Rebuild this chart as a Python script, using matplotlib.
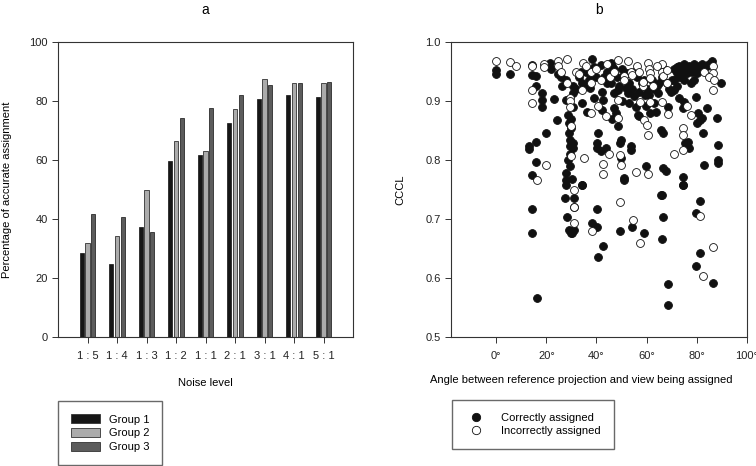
import numpy as np
import matplotlib
matplotlib.use("Agg")
import matplotlib.pyplot as plt
from matplotlib.patches import Patch
from matplotlib.lines import Line2D

plt.rcParams['font.family'] = ['Liberation Sans', 'DejaVu Sans']

# panel a: accuracy per noise level
noise_levels = ['1 : 5', '1 : 4', '1 : 3', '1 : 2', '1 : 1', '2 : 1', '3 : 1', '4 : 1', '5 : 1']
group1 = [28.4, 24.7, 37.4, 59.6, 61.6, 72.6, 80.6, 82.0, 81.3]
group2 = [31.9, 34.2, 50.0, 66.3, 63.2, 77.3, 87.4, 86.0, 86.0]
group3 = [41.6, 40.6, 35.6, 74.3, 77.6, 82.0, 85.4, 86.0, 86.6]
group_names = ['Group 1', 'Group 2', 'Group 3']
group_colors = ['#161616', '#ababab', '#5c5c5c']

# panel b: CCCL vs angle (angle in degrees, CCCL)
correct_angle = [
    0, 0, 5.6, 14.3, 14.3, 16, 16, 18.4, 18.4, 18.4, 21.3, 23, 19.7, 13, 13, 16, 16, 14.3,
    24.3, 24.5, 26.3, 27.7, 27.7, 28.6, 29, 29, 29.3, 29.3, 29.5, 29.5, 27.7, 27.7, 27.7,
    30.8, 30.8, 30.8, 30.8, 30.8, 30.3, 34.4, 34.4, 34.4, 36.4, 37.4, 38.4, 39, 40.4, 40.4,
    40.6, 42, 42.4, 41.7, 41.7, 43.7, 45.7, 45.7, 47, 47, 47.7, 48.5, 48.7, 49.5, 49.7, 49.7,
    51, 51.7, 52.4, 53, 53.6, 53.6, 53, 55, 55.7, 56.4, 57, 59.4, 59.6, 61.5, 59.6, 63, 63.7,
    64.4, 65.8, 66.4, 66.4, 67.7, 68.4, 69.7, 71, 71, 73, 74.5, 75, 74.5, 74.5, 75.4, 76.4,
    77, 77.8, 79, 79.5, 80, 80.6, 81.3, 81.9, 82.5, 84, 85, 88, 88.5, 88.5, 88.5, 89.5,
    71, 72, 73, 74, 75, 76, 77, 78, 79, 80, 81, 82, 83, 84, 86, 72, 74, 76, 78, 80, 73, 75,
    38, 44, 46, 50, 52, 56, 58, 60, 62, 64, 66, 67, 68, 69, 44, 48, 36, 33, 32, 30, 30, 28.5,
    35, 39, 42, 46, 50,
    22, 26, 34, 37, 40, 43, 45, 49, 51, 54, 57, 59, 61, 63, 65, 70, 72, 55, 47,
    14.3, 14.3, 16.3, 27.4, 28.3, 29, 29.7, 30.4, 31, 31, 31, 34.4, 38.1, 40.4, 40.4, 40.6,
    42.4, 49.5, 51, 54, 59, 66.2, 66.5, 66, 68.4, 68.4, 74.5, 79.8, 81.4, 79.8, 81.4, 86.5,
    65.6, 83,
]
correct_cccl = [
    0.953, 0.945, 0.946, 0.961, 0.944, 0.942, 0.925, 0.913, 0.902, 0.89, 0.964, 0.904, 0.845,
    0.823, 0.818, 0.831, 0.797, 0.775,
    0.867, 0.945, 0.925, 0.936, 0.902, 0.877, 0.862, 0.845, 0.834, 0.823, 0.81, 0.789, 0.778,
    0.766, 0.758,
    0.913, 0.925, 0.89, 0.828, 0.82, 0.768, 0.896, 0.931, 0.758, 0.882, 0.922, 0.972, 0.958,
    0.828, 0.82,
    0.845, 0.916, 0.901, 0.961, 0.815, 0.82, 0.964, 0.93, 0.913, 0.888, 0.879, 0.918, 0.857,
    0.828, 0.834, 0.803,
    0.769, 0.922, 0.913, 0.93, 0.823, 0.817, 0.896, 0.908, 0.89, 0.877, 0.874, 0.911, 0.891,
    0.88, 0.789, 0.896, 0.882,
    0.913, 0.851, 0.846, 0.787, 0.782, 0.89, 0.916, 0.919, 0.936, 0.905, 0.888, 0.899, 0.772,
    0.758, 0.828, 0.831,
    0.82, 0.93, 0.936, 0.907, 0.862, 0.879, 0.868, 0.872, 0.845, 0.888, 0.962, 0.871, 0.826,
    0.8, 0.795, 0.93,
    0.955, 0.958, 0.96, 0.955, 0.962, 0.958, 0.96, 0.955, 0.962, 0.958, 0.96, 0.962, 0.958,
    0.96, 0.967, 0.948, 0.945, 0.947, 0.95, 0.948, 0.94, 0.935,
    0.94, 0.95, 0.96, 0.955, 0.948, 0.94, 0.93, 0.92, 0.935, 0.925, 0.94, 0.955, 0.93, 0.92,
    0.93, 0.94, 0.95, 0.94, 0.92, 0.87, 0.855, 0.8,
    0.925, 0.905, 0.885, 0.87, 0.9,
    0.955, 0.94, 0.95, 0.935, 0.94, 0.94, 0.945, 0.925, 0.945, 0.92, 0.915, 0.935, 0.91, 0.92,
    0.93, 0.935, 0.925, 0.95, 0.955,
    0.717, 0.676, 0.566, 0.735, 0.704, 0.681, 0.676, 0.676, 0.681, 0.735, 0.72, 0.757, 0.693,
    0.717, 0.687, 0.635,
    0.655, 0.68, 0.766, 0.687, 0.677, 0.741, 0.703, 0.666, 0.589, 0.554, 0.757, 0.711, 0.73,
    0.621, 0.642, 0.592,
    0.741, 0.792,
]

wrong_angle = [
    0, 5.6, 7.8, 14.3, 14.3, 14.3, 19, 19, 24.7, 24.7, 28.3, 28.3, 29.3, 29.3, 29.3, 29.7,
    29.7, 32, 34.4, 35, 34.6, 37.7, 38, 40.8, 38, 41.7, 42.4, 42.4, 43.7, 45, 45.5, 48.5,
    48.7, 48.7, 49.5, 49.7, 50.8, 52.4, 53.7, 54, 55.7, 57.5, 58.4, 58.4, 59, 60, 60.4, 60.5,
    60.8, 61.2, 61.5, 60.4, 62.4, 61.5, 66, 66.3, 66.3, 66.5, 68.2, 68.2, 68.7, 71, 74.5,
    74.5, 74.5, 76.2, 77.8, 83, 86.5, 86.5, 86.5, 16.3, 19.7,
    31, 31, 31, 38.1, 49.5, 54.4, 57.4, 81.4, 82.5, 86.5,
    36, 40, 44, 47, 51, 56, 57, 64, 85, 87, 33, 26,
]
wrong_cccl = [
    0.968, 0.966, 0.959, 0.96, 0.918, 0.896, 0.963, 0.957, 0.968, 0.96, 0.971, 0.93, 0.905,
    0.9, 0.89, 0.857,
    0.806, 0.95, 0.919, 0.803, 0.964, 0.949, 0.931, 0.892, 0.88, 0.936, 0.794, 0.776, 0.874,
    0.811, 0.941, 0.902,
    0.871, 0.97, 0.809, 0.792, 0.942, 0.967, 0.95, 0.944, 0.78, 0.899, 0.925, 0.933, 0.868,
    0.86, 0.842, 0.964,
    0.955, 0.947, 0.939, 0.776, 0.926, 0.899, 0.899, 0.963, 0.95, 0.942, 0.953, 0.93, 0.878,
    0.811, 0.854,
    0.842, 0.817, 0.891, 0.877, 0.95, 0.959, 0.947, 0.919, 0.766, 0.792,
    0.749, 0.721, 0.694, 0.68, 0.728, 0.698, 0.659, 0.705, 0.604, 0.652,
    0.96, 0.955, 0.962, 0.95, 0.935, 0.96, 0.95, 0.96, 0.94, 0.935, 0.945, 0.95,
]

W, H = 756, 466
fig = plt.figure(figsize=(W / 100, H / 100), dpi=100)
fs = 8
tick_col = '#222222'

# ---- panel a ----
ax1 = fig.add_axes([58 / W, (H - 337) / H, 295 / W, 295 / H])
x = np.arange(1, len(noise_levels) + 1)
offsets = [-0.2, 0.0, 0.2]
for vals, off, col, name in zip([group1, group2, group3], offsets, group_colors, group_names):
    ax1.bar(x + off, vals, width=0.14, color=col, edgecolor='#111111', linewidth=0.5, label=name)
ax1.set_xlim(0, 10)
ax1.set_ylim(0, 100)
ax1.set_xticks(x)
ax1.set_xticklabels(noise_levels)
ax1.set_yticks([0, 20, 40, 60, 80, 100])
ax1.tick_params(direction='out', length=4, width=0.7, labelsize=fs, colors='#333333', labelcolor=tick_col)
ax1.tick_params(axis='x', pad=6)
ax1.set_xlabel('Noise level', fontsize=fs, labelpad=12)
ax1.set_ylabel('Percentage of accurate assignment', fontsize=fs, labelpad=12)
ax1.set_title('a', fontsize=10, pad=20)
for s in ax1.spines.values():
    s.set_linewidth(0.8)
    s.set_color('#333333')

handles = [Patch(facecolor=c, edgecolor='#333333', linewidth=0.6) for c in group_colors]
fig.legend(handles, group_names, loc='lower left', bbox_to_anchor=(58 / W, 1 / H),
           fontsize=fs, frameon=True, fancybox=False, edgecolor='#444444',
           handlelength=2.6, handleheight=0.9, labelspacing=0.3, borderpad=1.15,
           handletextpad=0.8, borderaxespad=0)

# ---- panel b ----
ax2 = fig.add_axes([451 / W, (H - 337) / H, 296 / W, 295 / H])
ax2.scatter(correct_angle, correct_cccl, s=32, facecolor='#111111', edgecolor='#111111',
            linewidth=0.6, zorder=3)
ax2.scatter(wrong_angle, wrong_cccl, s=32, facecolor='white', edgecolor='#111111',
            linewidth=0.6, zorder=3)
ax2.set_xlim(-18, 100)
ax2.set_ylim(0.5, 1.0)
ax2.set_xticks([0, 20, 40, 60, 80, 100])
ax2.set_xticklabels(['0°', '20°', '40°', '60°', '80°', '100°'])
ax2.set_yticks([0.5, 0.6, 0.7, 0.8, 0.9, 1.0])
ax2.set_yticklabels(['0.5', '0.6', '0.7', '0.8', '0.9', '1.0'])
ax2.tick_params(direction='out', length=4, width=0.7, labelsize=fs, colors='#333333', labelcolor=tick_col)
ax2.tick_params(axis='x', pad=6)
ax2.set_xlabel('Angle between reference projection and view being assigned', fontsize=fs)
ax2.xaxis.set_label_coords(0.44, -0.13)
ax2.set_ylabel('CCCL', fontsize=fs, labelpad=14)
ax2.set_title('b', fontsize=10, pad=20)
for s in ax2.spines.values():
    s.set_linewidth(0.8)
    s.set_color('#333333')

mk = [Line2D([], [], marker='o', linestyle='none', markersize=6, markerfacecolor='#111111',
             markeredgecolor='#111111', markeredgewidth=0.6),
      Line2D([], [], marker='o', linestyle='none', markersize=6, markerfacecolor='white',
             markeredgecolor='#111111', markeredgewidth=0.6)]
fig.legend(mk, ['Correctly assigned', 'Incorrectly assigned'], loc='lower left',
           bbox_to_anchor=(452 / W, (H - 449) / H), fontsize=fs, frameon=True, fancybox=False,
           edgecolor='#444444', handlelength=2.0, labelspacing=0.25, borderpad=1.2,
           handletextpad=1.2, borderaxespad=0)

fig.savefig('out.png', dpi=100)
